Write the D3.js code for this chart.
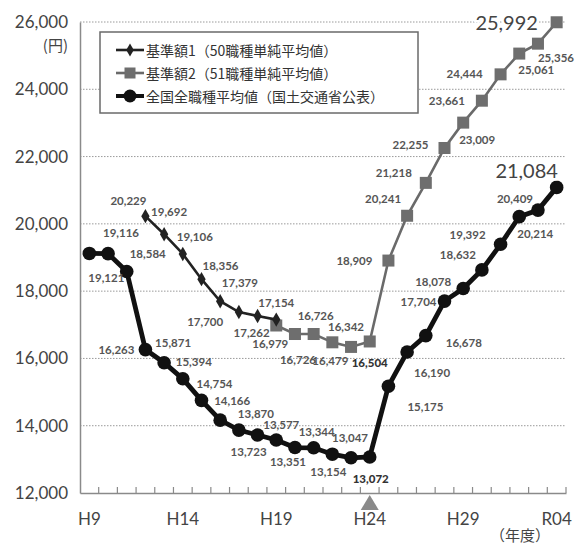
<!DOCTYPE html>
<html>
<head>
<meta charset="utf-8">
<script src="https://cdn.jsdelivr.net/npm/d3@7"></script>
<style>
  html, body { margin: 0; padding: 0; background: #fff; }
  svg { display: block; }
</style>
</head>
<body>
<svg id="chart" width="584" height="544"></svg>
<script>
// Fiscal years shown on the horizontal axis
const years = ["H9","H10","H11","H12","H13","H14","H15","H16","H17","H18","H19","H20",
  "H21","H22","H23","H24","H25","H26","H27","H28","H29","H30","R01","R02","R03","R04"];
const tickLabels = ["H9","H14","H19","H24","H29","R04"];
const yTicks = [12000,14000,16000,18000,20000,22000,24000,26000];

// 基準額1（50職種単純平均値）
const base1Years = ["H12","H13","H14","H15","H16","H17","H18","H19"];
const base1Values = [20229,19692,19106,18356,17700,17379,17262,17154];

// 基準額2（51職種単純平均値）
const base2Years = ["H19","H20","H21","H22","H23","H24","H25","H26","H27","H28","H29","H30","R01","R02","R03","R04"];
const base2Values = [16979,16726,16726,16479,16342,16504,18909,20241,21218,22255,23009,23661,24444,25061,25356,25992];

// 全国全職種平均値（国土交通省公表）
const nationalYears = years;
const nationalValues = [19121,19116,18584,16263,15871,15394,14754,14166,13870,13723,13577,13351,
  13344,13154,13047,13072,15175,16190,16678,17704,18078,18632,19392,20214,20409,21084];

const seriesNames = ["基準額1（50職種単純平均値）","基準額2（51職種単純平均値）","全国全職種平均値（国土交通省公表）"];

// Value-label placement relative to each point [dx, dy]
const base1LabelOffsets = [[-17,-16],[5,-23],[12,-17],[19,-14],[-15,20],[1,-30],[-6,17],[0,-17]];
const base2LabelOffsets = [[-6,18],[3,25],[2,-19],[-2,18],[-5,-20],[0,21],[-34,0],[-24,-17],
  [-32,-10],[-34,-3],[14,17],[-35,0],[-36,-1],[17,16],[18,14],[-50,0]];
const nationalLabelOffsets = [[17,24],[13,-21],[21,-18],[-29,0],[9,-20],[11,-17],[13,-17],[12,-20],
  [17,-17],[-9,16],[5,-15],[-7,14],[3,-16],[-4,17],[-1,-20],[1,22],[37,20],[25,20],[38,7],
  [-26,0],[-30,-7],[-24,-15],[-33,-10],[16,17],[-23,-12],[-30,-17]];

const svg = d3.select("#chart");
const numFont = "Lato, 'DejaVu Sans', sans-serif";
const cjkFont = "'Noto Sans CJK JP', 'Noto Sans', sans-serif";
const fmt = d3.format(",");

const x = d3.scaleBand().domain(years).range([80, 566]);
const cx = d => x(d) + x.bandwidth() / 2;
const y = d3.scaleLinear().domain([12000, 26000]).range([493, 22]);

// Dotted horizontal gridlines
svg.append("g").selectAll("line")
  .data(yTicks.filter(v => v > 12000))
  .join("line")
  .attr("x1", 80).attr("x2", 566)
  .attr("y1", d => y(d)).attr("y2", d => y(d))
  .attr("stroke", "#9a9a9a").attr("stroke-width", 1)
  .attr("stroke-dasharray", "1.5,1.5");

// Left axis
const yAxis = svg.append("g")
  .attr("transform", "translate(80,0)")
  .call(d3.axisLeft(y).tickValues(yTicks).tickFormat(fmt).tickSize(0).tickPadding(12));
yAxis.select(".domain").attr("stroke", "#8a8a8a").attr("stroke-width", 1.5);
yAxis.selectAll("text").attr("font-family", numFont).attr("font-size", 17).attr("fill", "#444");

svg.append("text").attr("x", 68).attr("y", 51).attr("text-anchor", "end")
  .attr("font-family", cjkFont).attr("font-size", 15).attr("fill", "#444").text("(円)");

// Bottom axis: labels every five years, ticks on every band boundary
const xAxis = svg.append("g")
  .attr("transform", "translate(0,493)")
  .call(d3.axisBottom(x).tickValues(tickLabels).tickSize(0).tickPadding(20));
xAxis.select(".domain").attr("stroke", "#8a8a8a").attr("stroke-width", 1.5);
xAxis.selectAll("text").attr("font-family", numFont).attr("font-size", 17).attr("fill", "#444");

svg.append("g").selectAll("line")
  .data(years.slice(1).concat(["__end"]))
  .join("line")
  .attr("x1", d => d === "__end" ? x.range()[1] : x(d))
  .attr("x2", d => d === "__end" ? x.range()[1] : x(d))
  .attr("y1", 493).attr("y2", 487)
  .attr("stroke", "#8a8a8a").attr("stroke-width", 1.2);

svg.append("text").attr("x", 550).attr("y", 541).attr("text-anchor", "end")
  .attr("font-family", cjkFont).attr("font-size", 15).attr("fill", "#444").text("（年度）");

// Marker under H24
const triX = cx("H24");
svg.append("path")
  .attr("d", `M${triX},495 L${triX - 9},510 L${triX + 9},510 Z`)
  .attr("fill", "#8a8a8a");

// Series lines
const line = d3.line().x(d => cx(d[0])).y(d => y(d[1]));
const base1 = base1Years.map((yr, i) => [yr, base1Values[i]]);
const base2 = base2Years.map((yr, i) => [yr, base2Values[i]]);
const national = nationalYears.map((yr, i) => [yr, nationalValues[i]]);

svg.append("path").datum(base2).attr("d", line)
  .attr("fill", "none").attr("stroke", "#6a6a6a").attr("stroke-width", 2.6);
svg.append("g").selectAll("rect").data(base2).join("rect")
  .attr("x", d => cx(d[0]) - 6).attr("y", d => y(d[1]) - 6)
  .attr("width", 12).attr("height", 12).attr("fill", "#6e6e6e");

svg.append("path").datum(base1).attr("d", line)
  .attr("fill", "none").attr("stroke", "#222").attr("stroke-width", 2.6);
svg.append("g").selectAll("path").data(base1).join("path")
  .attr("transform", d => `translate(${cx(d[0])},${y(d[1])})`)
  .attr("d", d3.symbol(d3.symbolDiamond, 60))
  .attr("fill", "#222");

svg.append("path").datum(national).attr("d", line)
  .attr("fill", "none").attr("stroke", "#111").attr("stroke-width", 4.8);
svg.append("g").selectAll("circle").data(national).join("circle")
  .attr("cx", d => cx(d[0])).attr("cy", d => y(d[1])).attr("r", 6.8)
  .attr("fill", "#111");

// Value labels
function addLabels(data, offsets, opts) {
  svg.append("g").selectAll("text").data(data).join("text")
    .attr("x", (d, i) => cx(d[0]) + offsets[i][0])
    .attr("y", (d, i) => y(d[1]) + offsets[i][1])
    .attr("text-anchor", "middle").attr("dominant-baseline", "central")
    .attr("font-family", numFont)
    .attr("font-size", (d, i) => opts.big(d, i) ? 20 : 11.5)
    .attr("font-weight", (d, i) => opts.big(d, i) ? 400 : (opts.bold(d, i) ? 900 : 700))
    .attr("fill", (d, i) => opts.big(d, i) ? "#444" : (opts.bold(d, i) ? "#333" : "#555"))
    .attr("stroke", (d, i) => opts.big(d, i) ? "#fff" : "none")
    .attr("stroke-width", 5).attr("paint-order", "stroke")
    .text(d => fmt(d[1]));
}
addLabels(base1, base1LabelOffsets, { big: () => false, bold: () => false });
addLabels(base2, base2LabelOffsets, {
  big: (d, i) => i === base2.length - 1,
  bold: d => d[0] === "H24"
});
addLabels(national, nationalLabelOffsets, {
  big: (d, i) => i === national.length - 1,
  bold: d => d[0] === "H24"
});

// Legend
const legend = svg.append("g");
legend.append("rect").attr("x", 100).attr("y", 32).attr("width", 318).attr("height", 81)
  .attr("fill", "#fff").attr("stroke", "#6a6a6a").attr("stroke-width", 1.5);
const legendRows = [50, 73, 96];
const lx1 = 116, lx2 = 144, lmid = (lx1 + lx2) / 2;
legendRows.forEach((ly, i) => {
  const g = legend.append("g");
  const colour = ["#222", "#6a6a6a", "#111"][i];
  g.append("line").attr("x1", lx1).attr("x2", lx2).attr("y1", ly).attr("y2", ly)
    .attr("stroke", colour).attr("stroke-width", [2.6, 2.6, 4][i]);
  if (i === 0) {
    g.append("path").attr("transform", `translate(${lmid},${ly})`)
      .attr("d", d3.symbol(d3.symbolDiamond, 50)).attr("fill", "#222");
  } else if (i === 1) {
    g.append("rect").attr("x", lmid - 5.5).attr("y", ly - 5.5).attr("width", 11).attr("height", 11)
      .attr("fill", "#6e6e6e");
  } else {
    g.append("circle").attr("cx", lmid).attr("cy", ly).attr("r", 6.5).attr("fill", "#111");
  }
  g.append("text").attr("x", 146).attr("y", ly).attr("dominant-baseline", "central")
    .attr("font-family", cjkFont).attr("font-size", 14).attr("fill", "#333")
    .text(seriesNames[i]);
});
</script>
</body>
</html>
